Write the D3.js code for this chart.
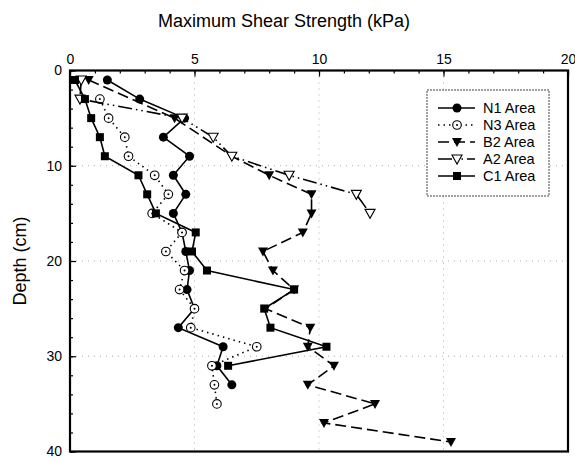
<!DOCTYPE html>
<html>
<head>
<meta charset="utf-8">
<script src="https://cdn.jsdelivr.net/npm/d3@7"></script>
<style>
  body { margin: 0; background: #fff; }
  svg { font-family: "Liberation Sans", Arial, sans-serif; }
</style>
</head>
<body>
<svg id="chart" width="575" height="457"></svg>
<script>
// depth (cm) and max shear strength (kPa) per area
const n1Depth = [1, 3, 5, 7, 9, 11, 13, 15, 17, 19, 21, 23, 25, 27, 29, 31, 33];
const n1Shear = [1.5, 2.8, 4.6, 3.75, 4.8, 4.15, 4.65, 4.15, 4.5, 4.65, 4.8, 4.7, 5.0, 4.35, 6.15, 5.9, 6.5];

const n3Depth = [3, 5, 7, 9, 11, 13, 15, 17, 19, 21, 23, 25, 27, 29, 31, 33, 35];
const n3Shear = [1.2, 1.55, 2.2, 2.35, 3.4, 3.95, 3.3, 4.5, 3.85, 4.6, 4.4, 5.0, 4.85, 7.5, 5.7, 5.8, 5.9];

const b2Depth = [1, 5, 9, 11, 13, 15, 17, 19, 21, 23, 25, 27, 29, 31, 33, 35, 37, 39];
const b2Shear = [0.75, 4.2, 6.5, 8.0, 9.7, 9.7, 9.35, 7.75, 8.15, 9.0, 7.85, 9.65, 9.55, 10.6, 9.55, 12.25, 10.2, 15.3];

const a2Depth = [1, 3, 5, 7, 9, 11, 13, 15];
const a2Shear = [0.45, 0.4, 4.5, 5.75, 6.5, 8.8, 11.5, 12.05];

const c1Depth = [1, 3, 5, 7, 9, 11, 13, 15, 17, 19, 21, 23, 25, 27, 29, 31];
const c1Shear = [0.2, 0.6, 0.85, 1.2, 1.4, 2.75, 3.1, 3.45, 5.05, 4.9, 5.5, 9.0, 7.8, 8.05, 10.3, 6.35];

const seriesNames = ["N1 Area", "N3 Area", "B2 Area", "A2 Area", "C1 Area"];
const xTicks = [0, 5, 10, 15, 20];
const yTicks = [0, 10, 20, 30, 40];

const series = [
  { name: seriesNames[0], depth: n1Depth, shear: n1Shear, dash: null, marker: "circle" },
  { name: seriesNames[1], depth: n3Depth, shear: n3Shear, dash: "1.5,4", marker: "ring" },
  { name: seriesNames[2], depth: b2Depth, shear: b2Shear, dash: "11,5", marker: "tri" },
  { name: seriesNames[3], depth: a2Depth, shear: a2Shear, dash: "14,4,1.5,4,1.5,4", marker: "opentri" },
  { name: seriesNames[4], depth: c1Depth, shear: c1Shear, dash: null, marker: "square" }
];

const svg = d3.select("#chart");
const plotL = 70, plotR = 568, plotT = 70.5, plotB = 451.5;

const x = d3.scaleLinear().domain([0, 20]).range([plotL, plotR]);
const y = d3.scaleLinear().domain([0, 40]).range([plotT, plotB]);

// dotted grid
svg.append("g").selectAll("line").data(xTicks.slice(1, -1)).enter().append("line")
  .attr("x1", d => x(d)).attr("x2", d => x(d)).attr("y1", plotT).attr("y2", plotB)
  .attr("stroke", "#aaa").attr("stroke-dasharray", "1,5");
svg.append("g").selectAll("line").data(yTicks.slice(1, -1)).enter().append("line")
  .attr("y1", d => y(d)).attr("y2", d => y(d)).attr("x1", plotL).attr("x2", plotR)
  .attr("stroke", "#aaa").attr("stroke-dasharray", "1,5");

// axes
svg.append("g").attr("transform", `translate(0,${plotT})`)
  .call(d3.axisTop(x).tickValues(xTicks).tickSize(-6).tickPadding(7).tickSizeOuter(0));
svg.append("g").attr("transform", `translate(0,${plotT})`)
  .call(d3.axisTop(x).tickValues(d3.range(0, 21, 1)).tickSize(-3).tickFormat("").tickSizeOuter(0));
svg.append("g").attr("transform", `translate(${plotL},0)`)
  .call(d3.axisLeft(y).tickValues(yTicks).tickSize(-6).tickPadding(8).tickSizeOuter(0));
svg.append("g").attr("transform", `translate(${plotL},0)`)
  .call(d3.axisLeft(y).tickValues(d3.range(0, 41, 2)).tickSize(-3).tickFormat("").tickSizeOuter(0));

svg.selectAll(".domain").remove();
svg.selectAll(".tick line").attr("stroke", "#000").attr("stroke-width", 1.2);
svg.selectAll(".tick text").attr("font-size", 14).attr("fill", "#000")
  .attr("font-family", "'Liberation Sans', Arial, sans-serif");

// frame
svg.append("rect").attr("x", plotL).attr("y", plotT)
  .attr("width", plotR - plotL).attr("height", plotB - plotT)
  .attr("fill", "none").attr("stroke", "#000").attr("stroke-width", 2.2);

// titles
svg.append("text").attr("x", 284).attr("y", 27).attr("text-anchor", "middle")
  .attr("font-size", 18).text("Maximum Shear Strength (kPa)");
svg.append("text").attr("transform", `translate(26,${(plotT + plotB) / 2}) rotate(-90)`)
  .attr("text-anchor", "middle").attr("font-size", 18).text("Depth (cm)");

function drawMarker(g, type, cx, cy) {
  if (type === "circle") {
    g.append("circle").attr("cx", cx).attr("cy", cy).attr("r", 4.5).attr("fill", "#000");
  } else if (type === "ring") {
    g.append("circle").attr("cx", cx).attr("cy", cy).attr("r", 4.3)
      .attr("fill", "#fff").attr("stroke", "#000").attr("stroke-width", 1.1);
    g.append("circle").attr("cx", cx).attr("cy", cy).attr("r", 1).attr("fill", "#000");
  } else if (type === "tri") {
    g.append("path").attr("d", `M${cx - 5},${cy - 4}L${cx + 5},${cy - 4}L${cx},${cy + 5}Z`)
      .attr("fill", "#000");
  } else if (type === "opentri") {
    g.append("path").attr("d", `M${cx - 5},${cy - 4}L${cx + 5},${cy - 4}L${cx},${cy + 5}Z`)
      .attr("fill", "#fff").attr("stroke", "#000").attr("stroke-width", 1.1);
  } else if (type === "square") {
    g.append("rect").attr("x", cx - 4).attr("y", cy - 4).attr("width", 8).attr("height", 8)
      .attr("fill", "#000");
  }
}

const line = d3.line().x(d => x(d[1])).y(d => y(d[0]));

series.forEach(s => {
  const pts = s.depth.map((d, i) => [d, s.shear[i]]);
  const g = svg.append("g");
  g.append("path").datum(pts).attr("d", line)
    .attr("fill", "none").attr("stroke", "#000").attr("stroke-width", 1.6)
    .attr("stroke-dasharray", s.dash);
  pts.forEach(p => drawMarker(g, s.marker, x(p[1]), y(p[0])));
});

// legend
const lg = svg.append("g");
lg.append("rect").attr("x", 427).attr("y", 90).attr("width", 122).attr("height", 106)
  .attr("fill", "#fff").attr("stroke", "#444").attr("stroke-width", 1).attr("stroke-dasharray", "2,1");
series.forEach((s, i) => {
  const ly = 108 + i * 17;
  lg.append("line").attr("x1", 438).attr("x2", 475).attr("y1", ly).attr("y2", ly)
    .attr("stroke", "#000").attr("stroke-width", 1.6).attr("stroke-dasharray", s.dash);
  drawMarker(lg, s.marker, 457, ly);
  lg.append("text").attr("x", 483).attr("y", ly + 5).attr("font-size", 14.5).text(s.name);
});
</script>
</body>
</html>
